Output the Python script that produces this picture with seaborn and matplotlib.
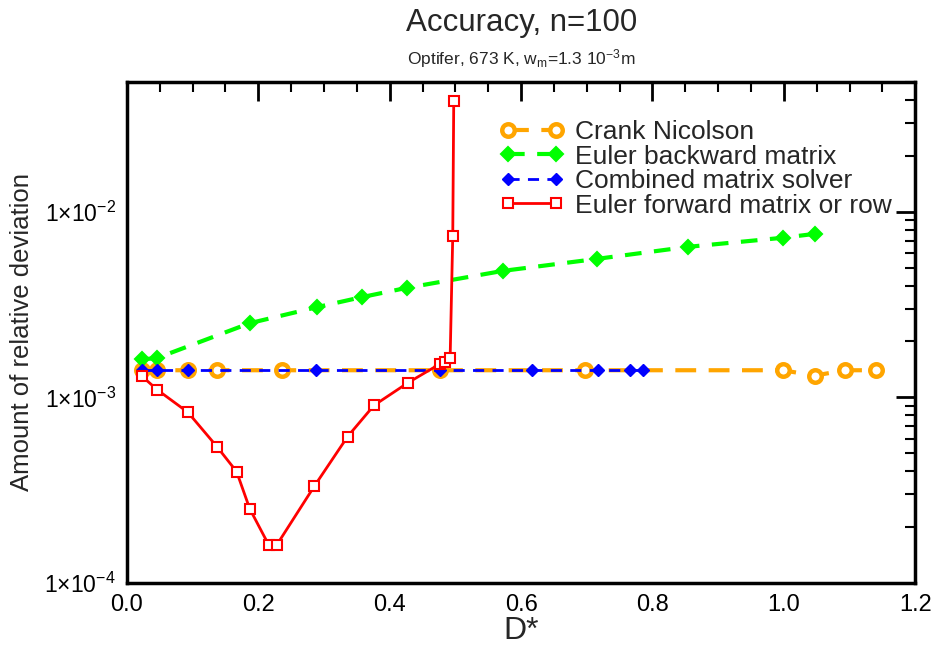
import matplotlib
matplotlib.use("Agg")
import matplotlib.pyplot as plt
import matplotlib.ticker as mticker
import numpy as np
import pandas as pd
import seaborn as sns

# ---- data ----
cn_x = [0.023, 0.046, 0.093, 0.137, 0.236, 0.476, 0.697, 0.998, 1.047, 1.093, 1.140]
cn_y = [1.40e-3, 1.40e-3, 1.40e-3, 1.40e-3, 1.40e-3, 1.40e-3, 1.40e-3, 1.40e-3, 1.31e-3, 1.40e-3, 1.40e-3]

eb_x = [0.023, 0.046, 0.187, 0.289, 0.358, 0.426, 0.572, 0.715, 0.854, 0.998, 1.047]
eb_y = [1.60e-3, 1.63e-3, 2.51e-3, 3.06e-3, 3.47e-3, 3.89e-3, 4.80e-3, 5.57e-3, 6.47e-3, 7.24e-3, 7.60e-3]

cm_x = [0.023, 0.046, 0.093, 0.288, 0.476, 0.617, 0.717, 0.766, 0.785]
cm_y = [1.41e-3, 1.41e-3, 1.41e-3, 1.41e-3, 1.41e-3, 1.41e-3, 1.41e-3, 1.41e-3, 1.41e-3]

ef_x = [0.023, 0.046, 0.093, 0.137, 0.167, 0.187, 0.216, 0.228, 0.285, 0.336, 0.376,
        0.428, 0.476, 0.484, 0.492, 0.496, 0.4975]
ef_y = [1.30e-3, 1.10e-3, 8.3e-4, 5.43e-4, 3.98e-4, 2.51e-4, 1.60e-4, 1.60e-4, 3.31e-4,
        6.15e-4, 9.05e-4, 1.20e-3, 1.51e-3, 1.55e-3, 1.62e-3, 7.42e-3, 3.94e-2]

labels = ["Crank Nicolson", "Euler backward matrix", "Combined matrix solver",
          "Euler forward matrix or row"]

title = "Accuracy, n=100"
subtitle = r"Optifer, 673 K, w$_\mathrm{m}$=1.3 10$^{-3}$m"
xlabel = "D*"
ylabel = "Amount of relative deviation"

sns.set_style("white")
plt.rcParams['font.family'] = ['Liberation Sans', 'DejaVu Sans']
plt.rcParams['mathtext.fontset'] = 'custom'
plt.rcParams['mathtext.rm'] = 'Liberation Sans'
plt.rcParams['mathtext.it'] = 'Liberation Sans'

fig = plt.figure(figsize=(9.33, 6.51), dpi=100)
ax = fig.add_axes([0.136, 0.1045, 0.845, 0.7695])

def df(x, y):
    return pd.DataFrame({"x": x, "y": y})

sns.lineplot(data=df(cn_x, cn_y), x="x", y="y", ax=ax, sort=False, estimator=None,
             color="#FFA500", linewidth=3, linestyle=(0, (5, 3)),
             marker="o", markersize=9, markerfacecolor="white",
             markeredgecolor="#FFA500", markeredgewidth=3.2, label=labels[0], zorder=2)
sns.lineplot(data=df(eb_x, eb_y), x="x", y="y", ax=ax, sort=False, estimator=None,
             color="#00FF00", linewidth=3, linestyle=(0, (4, 3)),
             marker="D", markersize=7, markerfacecolor="#00FF00",
             markeredgecolor="#00FF00", markeredgewidth=1.5, label=labels[1], zorder=3)
sns.lineplot(data=df(cm_x, cm_y), x="x", y="y", ax=ax, sort=False, estimator=None,
             color="#0000FF", linewidth=2, linestyle=(0, (4, 3)),
             marker="D", markersize=6, markerfacecolor="#0000FF",
             markeredgecolor="#0000FF", markeredgewidth=1, label=labels[2], zorder=4)
sns.lineplot(data=df(ef_x, ef_y), x="x", y="y", ax=ax, sort=False, estimator=None,
             color="#FF0000", linewidth=2, linestyle="-",
             marker="s", markersize=7, markerfacecolor="white",
             markeredgecolor="#FF0000", markeredgewidth=1.5, label=labels[3], zorder=5)

ax.set_yscale("log")
ax.set_xlim(0.0, 1.2)
ax.set_ylim(1e-4, 5e-2)

ax.xaxis.set_major_locator(mticker.MultipleLocator(0.2))
ax.xaxis.set_minor_locator(mticker.MultipleLocator(0.05))
ax.xaxis.set_major_formatter(mticker.FormatStrFormatter("%.1f"))
ax.yaxis.set_major_locator(mticker.LogLocator(base=10, numticks=10))
ax.yaxis.set_minor_locator(mticker.LogLocator(base=10, subs=np.arange(2, 10), numticks=20))
ax.yaxis.set_minor_formatter(mticker.NullFormatter())

def yfmt(v, pos):
    e = int(round(np.log10(v)))
    return r"1$\times$10$^{%d}$" % e
ax.yaxis.set_major_formatter(mticker.FuncFormatter(yfmt))

ax.tick_params(which="both", direction="in", top=True, right=True, width=2, colors="black")
ax.tick_params(axis="x", labelsize=17, pad=8)
ax.tick_params(axis="y", labelsize=16.5, pad=8)
ax.tick_params(which="major", length=14)
ax.tick_params(which="minor", length=7, width=1.5)
for s in ax.spines.values():
    s.set_linewidth(2.5)
    s.set_color("black")

ax.set_xlabel(xlabel, fontsize=23, labelpad=0)
ax.set_ylabel(ylabel, fontsize=18.5, labelpad=6)
ax.yaxis.set_label_coords(-0.118, 0.5)

fig.text(0.559, 0.965, title, ha="center", va="center", fontsize=22.5)
fig.text(0.559, 0.91, subtitle, ha="center", va="center", fontsize=12.5)

leg = ax.legend(loc="upper left", bbox_to_anchor=(0.46, 0.945), frameon=False,
                numpoints=2, handlelength=2.4, handletextpad=0.45, labelspacing=0.02,
                fontsize=19, borderaxespad=0)

fig.savefig("out.png", dpi=100)
